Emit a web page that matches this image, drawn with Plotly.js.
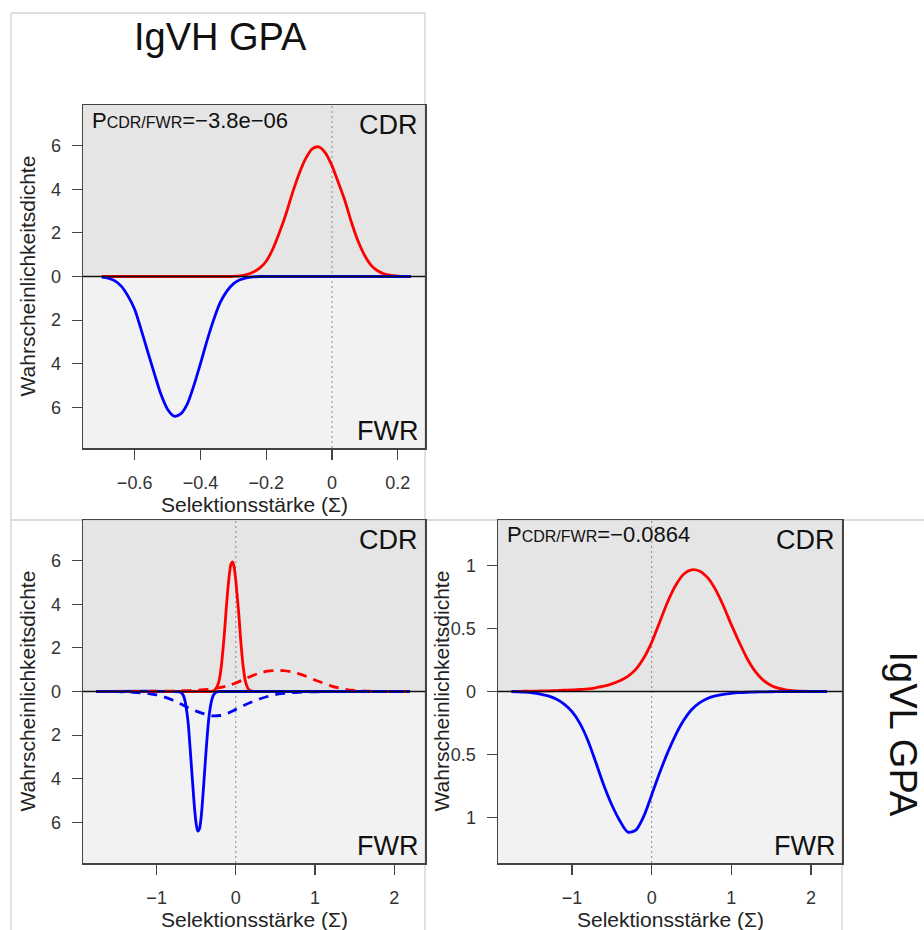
<!DOCTYPE html>
<html>
<head>
<meta charset="utf-8">
<script src="https://cdn.plot.ly/plotly-3.0.1.min.js"></script>
<style>html,body{margin:0;padding:0;background:#fff;}</style>
</head>
<body>
<div id="chart" style="width:924px;height:930px;"></div>
<script>
// ---------- data ----------
// IgVH: selection strength grid and densities
const vhX = [-0.70,-0.68,-0.66,-0.64,-0.62,-0.60,-0.58,-0.56,-0.54,-0.52,-0.50,-0.48,-0.46,-0.44,-0.42,-0.40,-0.38,-0.36,-0.34,-0.32,-0.30,-0.28,-0.26,-0.24,-0.22,-0.20,-0.18,-0.16,-0.14,-0.12,-0.10,-0.08,-0.06,-0.04,-0.02,0.00,0.02,0.04,0.06,0.08,0.10,0.12,0.14,0.16,0.18,0.20,0.22,0.24];
const vhCDR = [0,0,0,0,0,0,0,0,0,0,0,0,0,0,0,0,0,0,0,0,0.01,0.03,0.09,0.2,0.38,0.7,1.25,2.0,2.85,3.83,4.7,5.4,5.85,5.94,5.67,5.08,4.28,3.45,2.45,1.6,0.95,0.5,0.25,0.11,0.05,0.02,0,0];
const vhFWR = [0.03,0.08,0.2,0.45,0.9,1.5,2.45,3.45,4.45,5.4,6.08,6.4,6.3,5.85,5.0,4.0,2.95,2.0,1.2,0.68,0.34,0.15,0.06,0.02,0,0,0,0,0,0,0,0,0,0,0,0,0,0,0,0,0,0,0,0,0,0,0,0];
// IgVL: selection strength grid and densities
const vlX = [-1.76,-1.7,-1.6,-1.5,-1.4,-1.3,-1.2,-1.1,-1.0,-0.9,-0.8,-0.7,-0.6,-0.5,-0.4,-0.3,-0.2,-0.1,0.0,0.1,0.2,0.3,0.4,0.5,0.6,0.7,0.8,0.9,1.0,1.1,1.2,1.3,1.4,1.5,1.6,1.7,1.8,1.9,2.0,2.1,2.2];
const vlCDR = [0,0,0.002,0.003,0.004,0.005,0.007,0.01,0.012,0.016,0.02,0.03,0.042,0.06,0.085,0.12,0.175,0.265,0.39,0.55,0.71,0.84,0.93,0.965,0.955,0.905,0.81,0.68,0.53,0.39,0.26,0.16,0.09,0.048,0.024,0.011,0.005,0.002,0.001,0,0];
const vlFWR = [0,0.002,0.005,0.01,0.02,0.035,0.06,0.1,0.16,0.255,0.39,0.565,0.745,0.9,1.025,1.115,1.1,0.99,0.82,0.645,0.485,0.345,0.23,0.145,0.09,0.055,0.035,0.022,0.014,0.009,0.006,0.004,0.003,0.002,0.001,0,0,0,0,0,0];
// common x extent of the combined panel
const combinedRange = [-1.76, 2.2];
// p-values
const pVH = "\u22123.8e\u221206";
const pVL = "\u22120.0864";
// ticks
const xTicksVH = [-0.6,-0.4,-0.2,0,0.2];
const xTicksVL = [-1,0,1,2];
const yTicksVH = [-6,-4,-2,0,2,4,6];
const yTickTextVH = ["6","4","2","0","2","4","6"];
const yTicksVL = [-1,-0.5,0,0.5,1];
const yTickTextVL = ["1","0.5","0","0.5","1"];

// ---------- drawing ----------
const W = 924, H = 930;
const FONT = "Liberation Sans, Arial, Helvetica, sans-serif";
const RED = "#ff0000", BLUE = "#0000ff";
const px = v => v / W;
const py = v => 1 - v / H;
const neg = a => a.map(v => -v);
const LW = 2.8;

function line(x, y, color, xa, ya, dash) {
  return {type: "scatter", mode: "lines", x: x, y: y, xaxis: xa, yaxis: ya,
    line: {color: color, width: LW, dash: dash || "solid", shape: "spline", smoothing: 0.8},
    hoverinfo: "skip", showlegend: false};
}

const bx = [combinedRange[0]].concat(vhX, [combinedRange[1]]);
const traces = [
  line(vhX, vhCDR, RED, "x", "y"),
  line(vhX, neg(vhFWR), BLUE, "x", "y"),
  line(bx, [0].concat(vhCDR, [0]), RED, "x2", "y2"),
  line(bx, [0].concat(neg(vhFWR), [0]), BLUE, "x2", "y2"),
  line(vlX, vlCDR, RED, "x2", "y2", "10px,7px"),
  line(vlX, neg(vlFWR), BLUE, "x2", "y2", "10px,7px"),
  line(vlX, vlCDR, RED, "x3", "y3"),
  line(vlX, neg(vlFWR), BLUE, "x3", "y3")
];

function xax(dom, anchor, range, tv) {
  return {domain: dom, anchor: anchor, range: range, tickvals: tv, ticks: "outside", ticklen: 10,
    tickwidth: 1.2, tickcolor: "#444", showline: true, linecolor: "#444", linewidth: 1.5, mirror: true,
    showgrid: false, zeroline: false, ticklabelstandoff: 8,
    tickfont: {family: FONT, size: 18, color: "#333"}, fixedrange: true};
}
function yax(dom, anchor, range, tv, tt) {
  return {domain: dom, anchor: anchor, range: range, tickvals: tv, ticktext: tt, ticks: "outside", ticklen: 10,
    tickwidth: 1.2, tickcolor: "#444", showline: true, linecolor: "#444", linewidth: 1.5, mirror: true,
    showgrid: false, zeroline: false, ticklabelstandoff: 7,
    tickfont: {family: FONT, size: 18, color: "#333"}, fixedrange: true};
}

const domXL = [px(83), px(425)], domXR = [px(498), px(842)];
const domYT = [py(448), py(105)], domYB = [py(863), py(520)];

const shapes = [];
[["x","y"],["x2","y2"],["x3","y3"]].forEach(([xa, ya]) => {
  shapes.push({type: "rect", xref: xa + " domain", yref: ya + " domain", x0: 0, x1: 1, y0: 0.5, y1: 1,
    fillcolor: "#e5e5e5", line: {width: 0}, layer: "below"});
  shapes.push({type: "rect", xref: xa + " domain", yref: ya + " domain", x0: 0, x1: 1, y0: 0, y1: 0.5,
    fillcolor: "#f2f2f2", line: {width: 0}, layer: "below"});
  shapes.push({type: "line", xref: xa, yref: ya + " domain", x0: 0, x1: 0, y0: 0, y1: 1,
    line: {color: "#888", width: 1, dash: "2px,3px"}, layer: "below"});
  shapes.push({type: "line", xref: xa + " domain", yref: ya + " domain", x0: 0, x1: 1, y0: 0.5, y1: 0.5,
    line: {color: "#111", width: 1.3}, layer: "above"});
});
// light figure frames
const FR = {color: "#d2d2d2", width: 1.3};
function pline(x0, y0, x1, y1) {
  shapes.push({type: "line", xref: "paper", yref: "paper", x0: px(x0), x1: px(x1), y0: py(y0), y1: py(y1), line: FR, layer: "below"});
}
pline(11, 13, 425, 13);
pline(11, 13, 11, 930);
pline(425, 13, 425, 930);
pline(11, 520, 924, 520);
pline(842, 520, 842, 930);

const annotations = [];
function ann(text, x, y, size, opts) {
  annotations.push(Object.assign({text: text, xref: "paper", yref: "paper", x: px(x), y: py(y),
    showarrow: false, font: {family: FONT, size: size, color: "#111"}, xanchor: "center", yanchor: "middle"}, opts || {}));
}
// panel titles
ann("IgVH GPA", 220, 36.8, 38);
ann("IgVL GPA", 903, 733.5, 38, {textangle: 90});
// corner labels: [plot top, plot bottom, plot right]
[[105, 448, 425], [520, 863, 425], [520, 863, 842]].forEach(([top, bot, right]) => {
  ann("CDR", right - 5, top + 20, 27, {xanchor: "right"});
  ann("FWR", right - 5, bot - 17.4, 27, {xanchor: "right"});
});
// p labels
const SUB = "<span style=\"font-size:16px\">CDR/FWR</span>";
ann("P" + SUB + "=" + pVH, 90, 120.7, 22, {xanchor: "left"});
ann("P" + SUB + "=" + pVL, 505, 534.7, 22, {xanchor: "left"});
// axis titles
const YT = "Wahrscheinlichkeitsdichte", XT = "Selektionsst\u00e4rke (\u03a3)";
const TF = {family: FONT, size: 21, color: "#222"};
ann(YT, 27, 276.5, 21, {textangle: -90, font: TF});
ann(YT, 27, 691.5, 21, {textangle: -90, font: TF});
ann(YT, 441, 691.5, 21, {textangle: -90, font: TF});
ann(XT, 254, 504.4, 21, {font: TF});
ann(XT, 254, 919.4, 21, {font: TF});
ann(XT, 670, 919.4, 21, {font: TF});

const layout = {
  width: W, height: H, margin: {l: 0, r: 0, t: 0, b: 0},
  paper_bgcolor: "#ffffff", plot_bgcolor: "rgba(0,0,0,0)",
  font: {family: FONT},
  xaxis: xax(domXL, "y", [-0.757, 0.283], xTicksVH),
  yaxis: yax(domYT, "x", [-7.86, 7.86], yTicksVH, yTickTextVH),
  xaxis2: xax(domXL, "y2", [-1.93, 2.39], xTicksVL),
  yaxis2: yax(domYB, "x2", [-7.86, 7.86], yTicksVH, yTickTextVH),
  xaxis3: xax(domXR, "y3", [-1.93, 2.39], xTicksVL),
  yaxis3: yax(domYB, "x3", [-1.36, 1.36], yTicksVL, yTickTextVL),
  shapes: shapes,
  annotations: annotations
};

Plotly.newPlot("chart", traces, layout, {displayModeBar: false, staticPlot: true});
</script>
</body>
</html>
